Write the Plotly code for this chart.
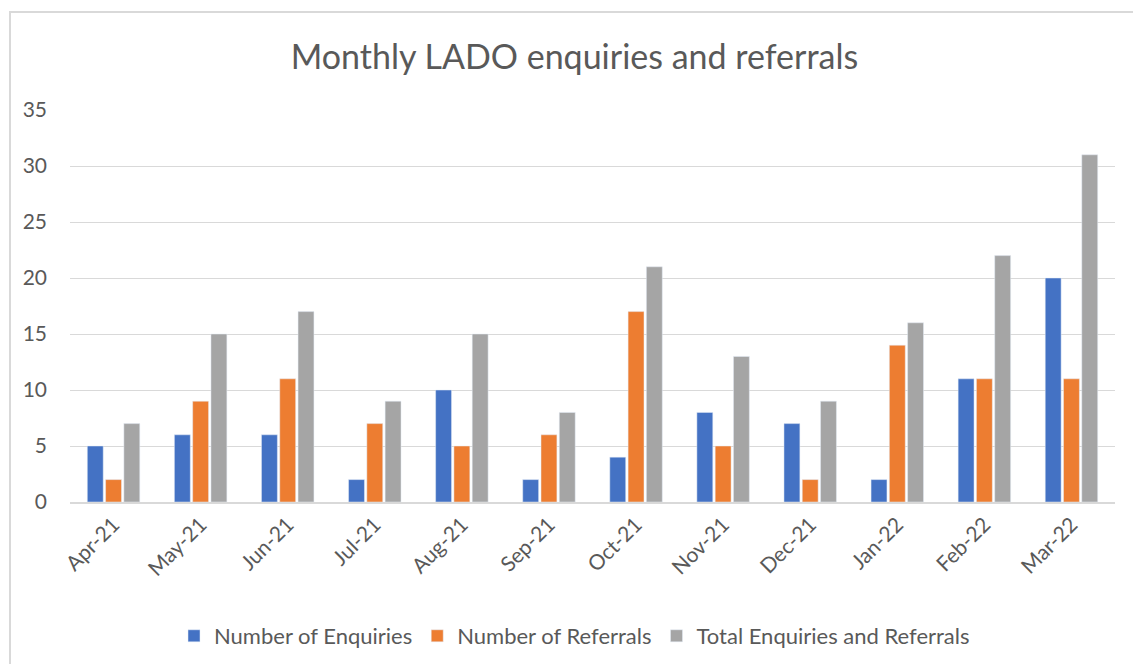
import plotly.graph_objects as go

months = ["Apr-21", "May-21", "Jun-21", "Jul-21", "Aug-21", "Sep-21",
          "Oct-21", "Nov-21", "Dec-21", "Jan-22", "Feb-22", "Mar-22"]
enquiries = [5, 6, 6, 2, 10, 2, 4, 8, 7, 2, 11, 20]
referrals = [2, 9, 11, 7, 5, 6, 17, 5, 2, 14, 11, 11]
totals = [7, 15, 17, 9, 15, 8, 21, 13, 9, 16, 22, 31]
y_ticks = [0, 5, 10, 15, 20, 25, 30, 35]

font_family = "Lato, 'Open Sans', sans-serif"
text_color = "#595959"

fig = go.Figure()
fig.add_trace(go.Bar(x=months, y=enquiries, name="Number of Enquiries", marker_color="#4472C4"))
fig.add_trace(go.Bar(x=months, y=referrals, name="Number of Referrals", marker_color="#ED7D31"))
fig.add_trace(go.Bar(x=months, y=totals, name="Total Enquiries and Referrals", marker_color="#A5A5A5"))

fig.update_layout(
    width=1133, height=656,
    paper_bgcolor="white", plot_bgcolor="white",
    margin=dict(l=62, r=26, t=102, b=162, autoexpand=False),
    barmode="group", bargap=0.37, bargroupgap=0.13,
    title=dict(text="Monthly LADO enquiries and referrals", x=0.5, xanchor="center",
               y=0.925, yanchor="middle",
               font=dict(family=font_family, size=34, color=text_color)),
    font=dict(family=font_family, color=text_color, size=21),
    legend=dict(orientation="h", xref="container", yref="container",
                x=0.5, xanchor="center", y=0.0427, yanchor="middle",
                font=dict(size=22, color=text_color), itemwidth=30, traceorder="normal"),
    shapes=[dict(type="rect", xref="paper", yref="paper", x0=-0.0574, x1=1.06, y0=-0.5, y1=1.25,
                 line=dict(color="#D9D9D9", width=2), fillcolor="rgba(0,0,0,0)", layer="below")],
)
fig.update_xaxes(tickangle=-45, showgrid=False, showline=True, linecolor="#D9D9D9", linewidth=2,
                 ticks="", automargin=False, tickfont=dict(size=21, color=text_color))
fig.update_yaxes(range=[0, 35], tickvals=y_ticks, showgrid=True, gridcolor="#D9D9D9", gridwidth=1,
                 zeroline=False, showline=False, ticks="", ticklabelstandoff=22, automargin=False,
                 tickfont=dict(size=21, color=text_color))

fig.write_html("out.html")
